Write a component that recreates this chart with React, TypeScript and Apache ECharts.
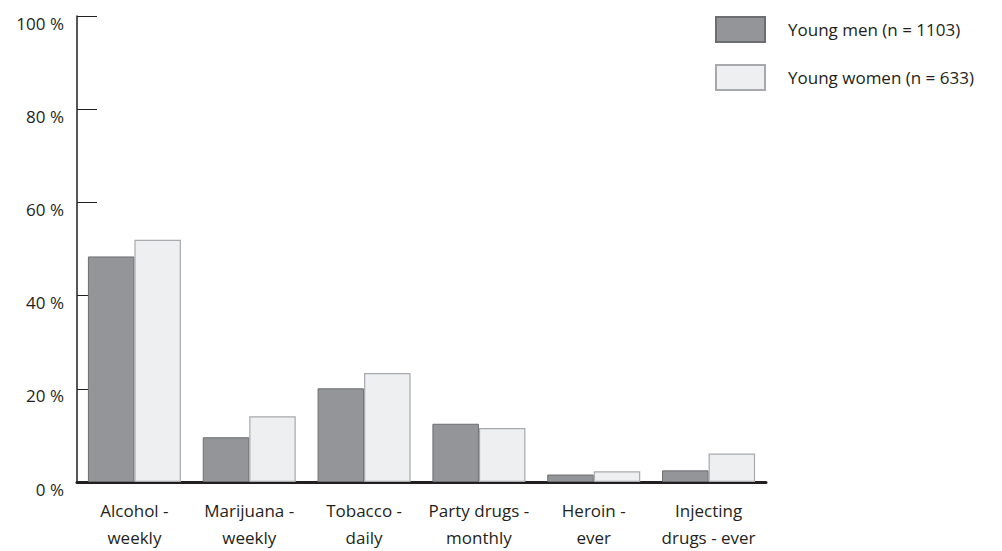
import React, { useEffect, useRef } from "react";
import * as echarts from "echarts";

const categories = [
  "Alcohol -\nweekly",
  "Marijuana -\nweekly",
  "Tobacco -\ndaily",
  "Party drugs -\nmonthly",
  "Heroin -\never",
  "Injecting\ndrugs - ever",
];
const youngMen = [48.4, 9.6, 20.1, 12.5, 1.6, 2.5];
const youngWomen = [52.0, 14.1, 23.4, 11.6, 2.3, 6.1];
const seriesNames = ["Young men (n = 1103)", "Young women (n = 633)"];

const FONT = "Open Sans";
const TXT = "#231f20";

export default function App() {
  const ref = useRef<HTMLDivElement>(null);
  useEffect(() => {
    if (!ref.current) return;
    const chart = echarts.init(ref.current, undefined, { renderer: "svg" });
    chart.setOption({
      animation: false,
      textStyle: { fontFamily: FONT, color: TXT },
      legend: {
        orient: "vertical",
        left: 715,
        top: 16,
        padding: 0,
        itemWidth: 49,
        itemHeight: 25,
        itemGap: 21,
        icon: "rect",
        data: seriesNames,
        textStyle: { fontFamily: FONT, fontSize: 17, color: TXT, padding: [0, 0, 0, 18] },
      },
      grid: { left: 77, right: 236, top: 16, bottom: 64, containLabel: false },
      xAxis: {
        type: "category",
        data: categories,
        axisLine: { lineStyle: { color: TXT, width: 3 } },
        axisTick: { inside: true, length: 10, lineStyle: { color: TXT, width: 1 } },
        axisLabel: {
          color: TXT,
          fontFamily: FONT,
          fontSize: 17,
          lineHeight: 27,
          margin: 15,
          interval: 0,
        },
      },
      yAxis: {
        type: "value",
        min: 0,
        max: 100,
        interval: 20,
        splitLine: { show: false },
        axisLine: { show: true, lineStyle: { color: TXT, width: 1.5 } },
        axisTick: { show: true, inside: true, length: 20, lineStyle: { color: TXT, width: 1 } },
        axisLabel: {
          color: TXT,
          fontFamily: FONT,
          fontSize: 17,
          margin: 13,
          verticalAlign: "top",
          lineHeight: 14,
          formatter: "{value} %",
        },
      },
      series: [
        {
          name: seriesNames[0],
          type: "bar",
          data: youngMen,
          barGap: "0%",
          barCategoryGap: "19%",
          itemStyle: { color: "#939598", borderColor: "#6d6e71", borderWidth: 1 },
        },
        {
          name: seriesNames[1],
          type: "bar",
          data: youngWomen,
          itemStyle: { color: "#eeeff1", borderColor: "#a7a9ac", borderWidth: 1.2 },
        },
      ],
    });
    return () => chart.dispose();
  }, []);
  return <div ref={ref} style={{ width: 1002, height: 551, position: "absolute", left: 0, top: 0 }} />;
}
